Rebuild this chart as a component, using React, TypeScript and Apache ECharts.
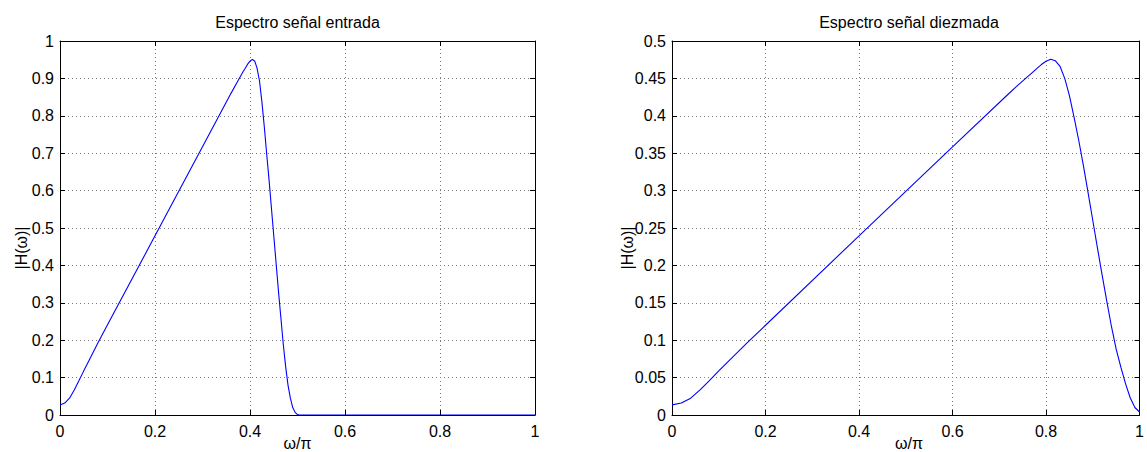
import React, { useEffect, useRef } from "react";
import * as echarts from "echarts";

const titleLeft = "Espectro señal entrada";
const titleRight = "Espectro señal diezmada";
const xLabel = "ω/π";
const yLabel = "|H(ω)|";

const leftX = [0, 0.01, 0.02, 0.03, 0.04, 0.05, 0.06, 0.08, 0.1, 0.2, 0.3, 0.36, 0.37, 0.38, 0.385, 0.39, 0.395, 0.4, 0.405, 0.41, 0.415, 0.42, 0.425, 0.43, 0.435, 0.44, 0.445, 0.45, 0.455, 0.46, 0.465, 0.47, 0.475, 0.48, 0.485, 0.49, 0.495, 0.5, 0.505, 1];
const leftY = [0.027, 0.032, 0.045, 0.067, 0.092, 0.118, 0.143, 0.193, 0.241, 0.479, 0.717, 0.86, 0.883, 0.906, 0.917, 0.927, 0.938, 0.946, 0.951, 0.946, 0.927, 0.893, 0.838, 0.772, 0.7, 0.63, 0.555, 0.48, 0.405, 0.33, 0.26, 0.19, 0.13, 0.08, 0.045, 0.02, 0.007, 0.001, 0, 0];

const rightX = [0, 0.02, 0.04, 0.06, 0.08, 0.1, 0.12, 0.16, 0.2, 0.4, 0.6, 0.72, 0.74, 0.76, 0.77, 0.78, 0.79, 0.8, 0.81, 0.82, 0.83, 0.84, 0.85, 0.86, 0.87, 0.88, 0.89, 0.9, 0.91, 0.92, 0.93, 0.94, 0.95, 0.96, 0.97, 0.98, 0.99, 1];
const rightY = [0.0135, 0.016, 0.0225, 0.0335, 0.046, 0.059, 0.0715, 0.096, 0.12, 0.2395, 0.3585, 0.4295, 0.441, 0.452, 0.4575, 0.463, 0.4685, 0.473, 0.4755, 0.4735, 0.466, 0.45, 0.427, 0.398, 0.367, 0.333, 0.297, 0.26, 0.223, 0.187, 0.152, 0.118, 0.088, 0.064, 0.042, 0.023, 0.01, 0.004];

const xMin = 0, xMax = 1, xStep = 0.2;
const leftYMax = 1, leftYStep = 0.1;
const rightYMax = 0.5, rightYStep = 0.05;

const FONT = "'Liberation Sans', Arial, Helvetica, sans-serif";

export default function App() {
  const ref = useRef<HTMLDivElement>(null);
  useEffect(() => {
    if (!ref.current) return;
    const chart = echarts.init(ref.current, null, { renderer: "svg" });
    const grids = [
      { left: 60, top: 41, width: 475, height: 374 },
      { left: 672, top: 41, width: 474, height: 374 },
    ];
    const grid = { color: "#7a7a7a", type: [1, 3] as any, width: 1 };
    const tick = { show: true, inside: true, length: 5, lineStyle: { color: "#000", width: 1 } };
    const line = { show: true, onZero: false, lineStyle: { color: "#000", width: 1 } };
    const lbl = { color: "#000", fontSize: 16, fontFamily: FONT };
    const xAx = (gi: number, pos: string, main: boolean) => ({
      type: "value", gridIndex: gi, position: pos, min: xMin, max: xMax, interval: xStep,
      axisLine: line, axisTick: tick,
      axisLabel: main ? { ...lbl, margin: 8 } : { show: false },
      splitLine: main ? { show: true, lineStyle: grid } : { show: false },
    });
    const yAx = (gi: number, pos: string, max: number, step: number, main: boolean) => ({
      type: "value", gridIndex: gi, position: pos, min: 0, max, interval: step,
      axisLine: line, axisTick: tick,
      axisLabel: main ? { ...lbl, margin: 6 } : { show: false },
      splitLine: main ? { show: true, lineStyle: grid } : { show: false },
    });
    const cx0 = 60 + 475 / 2, cx1 = 672 + 474 / 2, cy = 41 + 374 / 2;
    const txt = (text: string, x: number, y: number, rot = 0) => ({
      type: "text", x, y, rotation: rot,
      style: { text, fill: "#000", fontSize: 16, fontFamily: FONT, align: "center", verticalAlign: "middle" },
    });
    chart.setOption({
      animation: false,
      backgroundColor: "#fff",
      grid: grids,
      xAxis: [xAx(0, "bottom", true), xAx(0, "top", false), xAx(1, "bottom", true), xAx(1, "top", false)],
      yAxis: [
        yAx(0, "left", leftYMax, leftYStep, true), yAx(0, "right", leftYMax, leftYStep, false),
        yAx(1, "left", rightYMax, rightYStep, true), yAx(1, "right", rightYMax, rightYStep, false),
      ],
      series: [
        {
          type: "line", xAxisIndex: 0, yAxisIndex: 0, showSymbol: false, symbol: "none",
          data: leftX.map((x, i) => [x, leftY[i]]),
          lineStyle: { color: "#0000ff", width: 1.1 },
        },
        {
          type: "line", xAxisIndex: 2, yAxisIndex: 2, showSymbol: false, symbol: "none",
          data: rightX.map((x, i) => [x, rightY[i]]),
          lineStyle: { color: "#0000ff", width: 1.1 },
        },
      ],
      graphic: [
        txt(titleLeft, cx0, 22),
        txt(titleRight, cx1, 22),
        txt(xLabel, cx0, 443),
        txt(xLabel, cx1, 443),
        txt(yLabel, 21, cy + 20, Math.PI / 2),
        txt(yLabel, 627, cy + 20, Math.PI / 2),
      ],
    });
    return () => chart.dispose();
  }, []);
  return <div ref={ref} style={{ position: "fixed", left: 0, top: 0, width: 1147, height: 452 }} />;
}
